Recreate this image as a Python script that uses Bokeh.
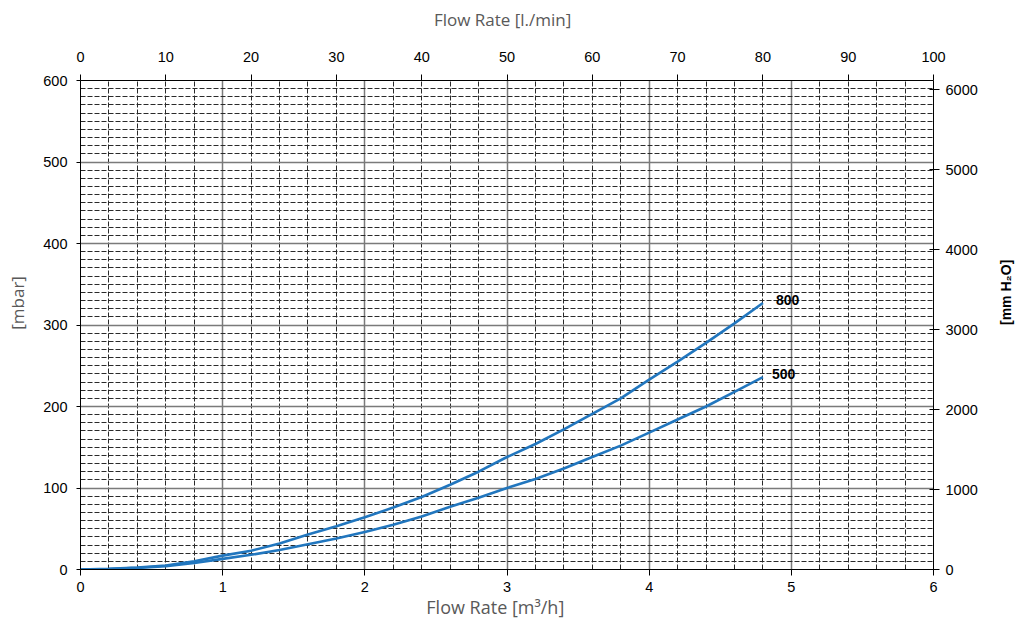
import math
from bokeh.plotting import figure
from bokeh.models import (ColumnDataSource, Range1d, LinearAxis, FixedTicker)
from bokeh.core.properties import value
from bokeh.embed import file_html
from bokeh.resources import INLINE

# ---- data ----
flow_m3h = [0.0, 0.2, 0.4, 0.6, 0.8, 1.0, 1.2, 1.4, 1.6, 1.8, 2.0, 2.2, 2.4,
            2.6, 2.8, 3.0, 3.2, 3.4, 3.6, 3.8, 4.0, 4.2, 4.4, 4.6, 4.8]
dp_800 = [0, 0.8, 2.5, 5, 10, 17, 23, 32, 43, 53, 64, 76, 89,
          104, 120, 138, 154, 172, 191, 210, 233, 255, 278, 302, 327]
dp_500 = [0, 0.5, 2, 4, 8, 13, 18, 24, 31, 38, 46, 55, 65,
          77, 88, 100, 111, 124, 138, 152, 168, 184, 200, 218, 236]
series_names = ["800", "500"]

x_ticks = [0, 1, 2, 3, 4, 5, 6]
x_minor = [i * 0.2 for i in range(31)]
top_ticks = [0, 10, 20, 30, 40, 50, 60, 70, 80, 90, 100]
y_ticks = [0, 100, 200, 300, 400, 500, 600]
y_minor = list(range(0, 601, 10))
right_ticks = [0, 1000, 2000, 3000, 4000, 5000, 6000]
MBAR_TO_MMH2O = 10.197
LMIN_PER_M3H = 100 / 6

LINE_COLOR = "#2176be"
TICK_FONT = "Liberation Sans"
LABEL_FONT = "Open Sans"
LABEL_COLOR = "#595959"
NB = "\u00a0"

p = figure(width=1024, height=621, output_backend="svg", toolbar_location=None,
           x_range=Range1d(0, 6), y_range=Range1d(0, 600),
           min_border_left=80, min_border_right=91, min_border_top=80,
           min_border_bottom=52, x_axis_location=None, y_axis_location=None)
p.outline_line_color = None
p.background_fill_color = "white"
p.border_fill_color = "white"

p.extra_x_ranges = {"lmin": Range1d(0, 6 * LMIN_PER_M3H)}
p.extra_y_ranges = {"mmh2o": Range1d(0, 600 * MBAR_TO_MMH2O)}

def style_axis(ax, tin, tout, standoff, label_standoff):
    ax.axis_line_color = "black"
    ax.axis_line_width = 1
    ax.major_tick_line_color = "black"
    ax.major_tick_in = tin
    ax.major_tick_out = tout
    ax.minor_tick_in = 0
    ax.minor_tick_out = 0
    ax.major_label_text_font = TICK_FONT
    ax.major_label_text_font_size = "14.5px"
    ax.major_label_text_color = "black"
    ax.major_label_standoff = standoff
    ax.axis_label_standoff = label_standoff
    ax.axis_label_text_font_style = "normal"

bottom = LinearAxis(ticker=FixedTicker(ticks=x_ticks),
                    axis_label="Flow Rate [m³/h]" + NB * 5)
style_axis(bottom, 0, 6, 6, 0)
bottom.axis_label_text_font = LABEL_FONT
bottom.axis_label_text_font_size = "18px"
bottom.axis_label_text_color = LABEL_COLOR
p.add_layout(bottom, "below")

top = LinearAxis(x_range_name="lmin", ticker=FixedTicker(ticks=top_ticks),
                 axis_label="Flow Rate [l./min]" + NB * 2)
style_axis(top, 0, 6, 13, 18)
top.axis_label_text_font = LABEL_FONT
top.axis_label_text_font_size = "17px"
top.axis_label_text_color = LABEL_COLOR
p.add_layout(top, "above")

left = LinearAxis(ticker=FixedTicker(ticks=y_ticks), axis_label=NB * 10 + "[mbar]")
style_axis(left, 0, 4, 9, 11)
left.axis_label_text_font = LABEL_FONT
left.axis_label_text_font_size = "17px"
left.axis_label_text_color = LABEL_COLOR
p.add_layout(left, "left")

right = LinearAxis(y_range_name="mmh2o", ticker=FixedTicker(ticks=right_ticks))
style_axis(right, 4, 6, 6, 25)
if "axis_label_orientation" in right.properties():
    right.axis_label_orientation = math.pi / 2
    right.axis_label = "[mm H₂O]"
else:
    right.axis_label = "[mm H₂O]" + NB * 13
right.axis_label_text_font = TICK_FONT
right.axis_label_text_font_size = "14px"
right.axis_label_text_font_style = "bold"
right.axis_label_text_color = "black"
p.add_layout(right, "right")

# grids
p.xgrid.ticker = FixedTicker(ticks=x_ticks, minor_ticks=x_minor)
p.ygrid.ticker = FixedTicker(ticks=y_ticks, minor_ticks=y_minor)
for g in (p.xgrid, p.ygrid):
    g.grid_line_color = "#7a7a7a"
    g.grid_line_width = 1.5
    g.grid_line_alpha = 1
    g.minor_grid_line_color = "#2a2a2a"
    g.minor_grid_line_width = 1
    g.minor_grid_line_dash = "5 2"

# curves
src = ColumnDataSource(dict(x=flow_m3h, y800=dp_800, y500=dp_500))
p.line("x", "y800", source=src, line_color=LINE_COLOR, line_width=2.6)
p.line("x", "y500", source=src, line_color=LINE_COLOR, line_width=2.6)

label_src = ColumnDataSource(dict(
    x=[flow_m3h[-1], flow_m3h[-1]],
    y=[dp_800[-1], dp_500[-1]],
    t=series_names,
    dx=[13, 9],
))
p.text("x", "y", text="t", source=label_src, x_offset="dx", y_offset=-3,
       text_font=value(TICK_FONT), text_font_style="bold", text_font_size="14px",
       text_color="black", text_align="left", text_baseline="middle")

open("out.html", "w").write(file_html(p, INLINE))
